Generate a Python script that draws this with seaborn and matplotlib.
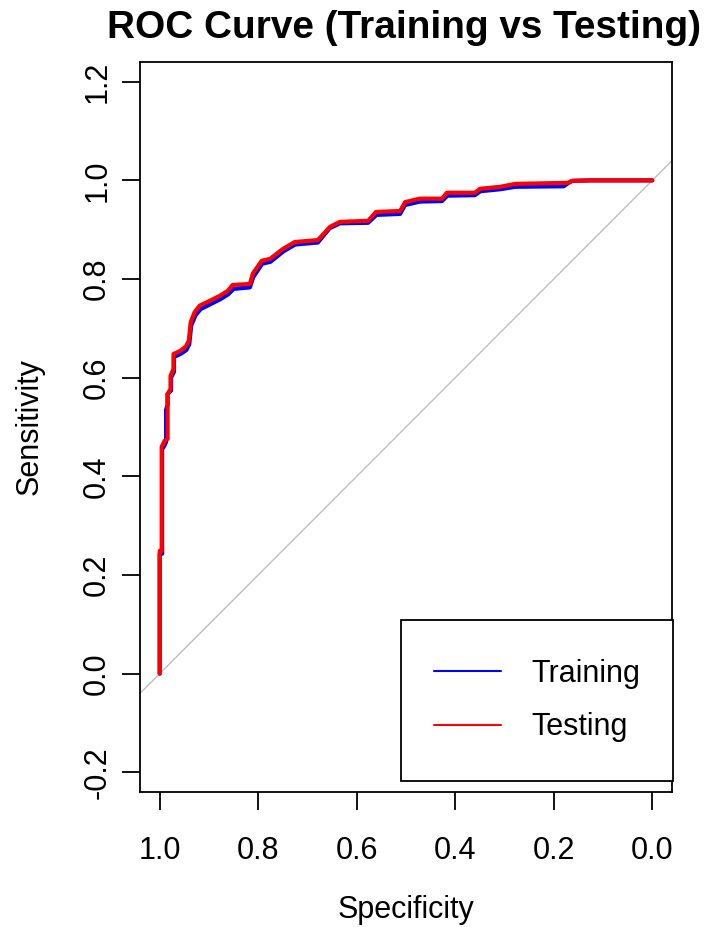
import matplotlib
matplotlib.use("Agg")
import matplotlib.pyplot as plt
import seaborn as sns
import pandas as pd
from matplotlib.lines import Line2D
from matplotlib.patches import Rectangle

# ---- data (specificity, sensitivity) ----
train_spec = [1.000, 1.000, 0.995, 0.995, 0.990, 0.987, 0.987, 0.984, 0.984, 0.977,
              0.977, 0.971, 0.971, 0.958, 0.946, 0.940, 0.936, 0.927, 0.917, 0.897,
              0.877, 0.861, 0.850, 0.817, 0.810, 0.792, 0.775, 0.749, 0.725, 0.679,
              0.655, 0.634, 0.577, 0.560, 0.512, 0.502, 0.472, 0.427, 0.416, 0.360,
              0.349, 0.309, 0.278, 0.180, 0.170, 0.163, 0.126, 0.000]
train_sens = [0.000, 0.243, 0.243, 0.455, 0.463, 0.470, 0.535, 0.545, 0.567, 0.574,
              0.600, 0.612, 0.642, 0.648, 0.656, 0.668, 0.706, 0.727, 0.739, 0.749,
              0.759, 0.769, 0.780, 0.783, 0.804, 0.831, 0.835, 0.856, 0.870, 0.874,
              0.903, 0.913, 0.914, 0.930, 0.932, 0.950, 0.957, 0.958, 0.969, 0.970,
              0.978, 0.982, 0.987, 0.988, 0.995, 0.999, 1.000, 1.000]

test_spec = [1.000, 1.000, 0.996, 0.996, 0.990, 0.984, 0.984, 0.978, 0.978, 0.972,
             0.972, 0.959, 0.947, 0.941, 0.937, 0.929, 0.919, 0.898, 0.878, 0.862,
             0.852, 0.817, 0.811, 0.793, 0.776, 0.750, 0.726, 0.679, 0.654, 0.634,
             0.577, 0.561, 0.512, 0.502, 0.472, 0.427, 0.417, 0.360, 0.350, 0.309,
             0.278, 0.171, 0.163, 0.126, 0.000]
test_sens = [0.000, 0.249, 0.249, 0.460, 0.472, 0.476, 0.567, 0.577, 0.604, 0.618,
             0.648, 0.654, 0.663, 0.675, 0.713, 0.733, 0.746, 0.756, 0.766, 0.776,
             0.788, 0.790, 0.811, 0.837, 0.841, 0.861, 0.875, 0.879, 0.906, 0.916,
             0.918, 0.936, 0.938, 0.956, 0.963, 0.963, 0.975, 0.975, 0.983, 0.987,
             0.993, 0.995, 0.999, 1.000, 1.000]

series_names = ["Training", "Testing"]
series_colors = ["#0000FF", "#FF0000"]
x_ticks = [1.0, 0.8, 0.6, 0.4, 0.2, 0.0]
y_ticks = [-0.2, 0.0, 0.2, 0.4, 0.6, 0.8, 1.0, 1.2]

sns.set_style("white")
plt.rcParams["font.family"] = ["Liberation Sans", "DejaVu Sans"]
plt.rcParams["text.color"] = "black"

W, H = 710, 927
fig = plt.figure(figsize=(W/100, H/100), dpi=100)
ax = fig.add_axes([140/W, 1-792/H, 532/W, 730/H])

df_train = pd.DataFrame({"spec": train_spec, "sens": train_sens})
df_test = pd.DataFrame({"spec": test_spec, "sens": test_sens})

ax.axline((1.0, 0.0), (0.0, 1.0), color="#BEBEBE", lw=1.0, zorder=1)
sns.lineplot(data=df_train, x="spec", y="sens", sort=False, estimator=None,
             color=series_colors[0], lw=3.0, ax=ax, zorder=2)
sns.lineplot(data=df_test, x="spec", y="sens", sort=False, estimator=None,
             color=series_colors[1], lw=3.0, ax=ax, zorder=3)

ax.set_xlim(1.04, -0.04)
ax.set_ylim(-0.24, 1.24)
ax.set_xticks(x_ticks)
ax.set_xticklabels([f"{v:.1f}" for v in x_ticks])
ax.set_yticks(y_ticks)
ax.set_yticklabels([f"{v:.1f}" for v in y_ticks], rotation=90, va="center")

for s in ax.spines.values():
    s.set_color("black")
    s.set_linewidth(1.3)

ax.tick_params(axis="both", which="major", direction="out", length=13, width=1.3,
               color="black", labelsize=22, labelcolor="black", bottom=True, left=True)
ax.tick_params(axis="x", pad=18.5)
ax.tick_params(axis="y", pad=7)

ax.set_xlabel("Specificity", fontsize=22, color="black")
ax.set_ylabel("Sensitivity", fontsize=22, color="black")
ax.xaxis.set_label_coords(0.5, (792-910)/730)
ax.xaxis.label.set_va("center")
ax.yaxis.set_label_coords((30-140)/532, 0.5)
ax.yaxis.label.set_va("center")

fig.text(404/W, 1-28/H, "ROC Curve (Training vs Testing)", ha="center", va="center",
         fontsize=27.9, fontweight="bold", color="black")

# legend box (drawn as a frame in figure pixels) and its contents
bx0, bx1, by0, by1 = 401, 673, 620, 781
fig.patches.append(Rectangle((bx0/W, 1-by1/H), (bx1-bx0)/W, (by1-by0)/H,
                             transform=fig.transFigure, fill=True, facecolor="white",
                             edgecolor="black", lw=1.3, zorder=4))
handles = [Line2D([0], [0], color=c, lw=1.5) for c in series_colors]
leg = fig.legend(handles, series_names, loc="center",
                 bbox_to_anchor=(((bx0+bx1)/2)/W, 1-((by0+by1)/2)/H),
                 fontsize=22, frameon=False, handlelength=2.2, handletextpad=1.0,
                 borderpad=0, labelspacing=0.78, labelcolor="black")
leg.set_zorder(5)

fig.savefig("out.png", dpi=100)
